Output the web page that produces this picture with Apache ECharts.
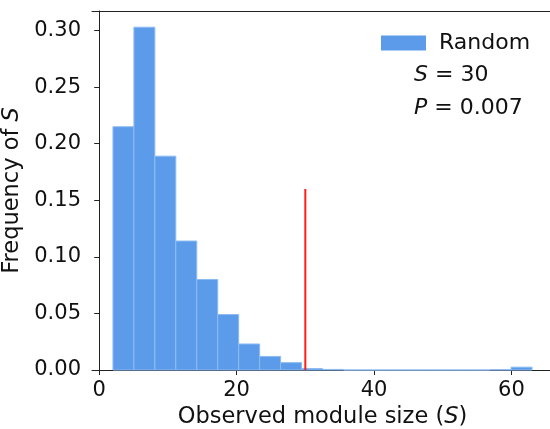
<!DOCTYPE html>
<html>
<head>
<meta charset="utf-8">
<script src="https://cdn.jsdelivr.net/npm/echarts@6/dist/echarts.min.js"></script>
<style>
  html, body { margin: 0; padding: 0; background: #fff; }
  #chart { width: 550px; height: 429px; }
</style>
</head>
<body>
<div id="chart"></div>
<script>
// histogram bins of the random module sizes (20 bins over 2..63)
var binStart = [2, 5.05, 8.1, 11.15, 14.2, 17.25, 20.3, 23.35, 26.4, 29.45,
  32.5, 35.55, 38.6, 41.65, 44.7, 47.75, 50.8, 53.85, 56.9, 59.95];
var binEnd = [5.05, 8.1, 11.15, 14.2, 17.25, 20.3, 23.35, 26.4, 29.45, 32.5,
  35.55, 38.6, 41.65, 44.7, 47.75, 50.8, 53.85, 56.9, 59.95, 63];
var freq = [0.215, 0.303, 0.189, 0.114, 0.080, 0.049, 0.023, 0.012, 0.0065, 0.0013,
  0.0005, 0, 0, 0, 0, 0, 0, 0, 0.0003, 0.0025];
var observedS = 30;
var observedLine = [[30, 0], [30, 0.16]];
var xTicks = [0, 20, 40, 60];
var yTicks = [0, 0.05, 0.10, 0.15, 0.20, 0.25, 0.30];

var font = 'DejaVu Sans';
var ink = '#111';
var barData = [];
for (var i = 0; i < freq.length; i++) {
  barData.push([binStart[i], binEnd[i], freq[i]]);
}
var italic = { fontFamily: font, fontSize: 22.5, fontStyle: 'italic', color: ink };

var mychart = echarts.init(document.getElementById('chart'));
var option = {
  animation: false,
  textStyle: { fontFamily: font },
  grid: { left: 92, right: -3, top: 11, bottom: 59, outerBoundsMode: 'none', containLabel: false },
  legend: {
    data: ['Random'],
    left: 376, top: 27,
    icon: 'rect', itemWidth: 45, itemHeight: 15, itemGap: 10,
    textStyle: { fontFamily: font, fontSize: 22, color: ink, padding: [0, 0, 0, 8] }
  },
  xAxis: [{
    type: 'value',
    min: -1.05, max: 66.05,
    name: 'Observed module size ({i|S})',
    nameLocation: 'middle',
    nameGap: 29,
    nameTextStyle: { fontFamily: font, fontSize: 22.5, color: ink, rich: { i: italic } },
    axisLine: { show: true, lineStyle: { color: '#222' } },
    axisTick: { show: true, length: 5, lineStyle: { color: '#222' }, customValues: xTicks },
    axisLabel: { fontSize: 21, color: ink, margin: 10, customValues: xTicks },
    splitLine: { show: false }
  }, {
    // top spine only
    type: 'value', position: 'top',
    min: -1.05, max: 66.05,
    axisLine: { show: true, lineStyle: { color: '#222' } },
    axisTick: { show: false }, axisLabel: { show: false }, splitLine: { show: false }
  }],
  yAxis: {
    type: 'value',
    min: 0, max: 0.3173,
    name: 'Frequency of {i|S}',
    nameLocation: 'middle',
    nameGap: 56,
    nameTextStyle: { fontFamily: font, fontSize: 22.5, color: ink, rich: { i: italic } },
    axisLine: { show: true, lineStyle: { color: '#222' } },
    axisTick: { show: true, length: 5, lineStyle: { color: '#222' }, customValues: yTicks },
    axisLabel: {
      fontSize: 21, color: ink, margin: 11, customValues: yTicks,
      formatter: function (v) { return v.toFixed(2); }
    },
    splitLine: { show: false }
  },
  series: [
    {
      name: 'Random',
      type: 'custom',
      itemStyle: { color: '#5b9bea' },
      renderItem: function (params, api) {
        var p0 = api.coord([api.value(0), api.value(2)]);
        var p1 = api.coord([api.value(1), 0]);
        return {
          type: 'rect',
          shape: { x: p0[0], y: p0[1], width: p1[0] - p0[0], height: p1[1] - p0[1] },
          style: { fill: '#5b9bea', stroke: '#8dbcf2', lineWidth: 1 }
        };
      },
      encode: { x: [0, 1], y: 2 },
      data: barData
    },
    {
      name: 'S',
      type: 'line',
      symbol: 'none',
      lineStyle: { color: '#ff1a1a', width: 2 },
      data: observedLine,
      z: 5
    }
  ],
  graphic: [
    {
      type: 'text', left: 414, top: 64,
      style: {
        text: '{i|S} = ' + observedS,
        fontFamily: font, fontSize: 22, fill: ink,
        rich: { i: { fontFamily: font, fontSize: 22, fontStyle: 'italic', fill: ink } }
      }
    },
    {
      type: 'text', left: 414, top: 97,
      style: {
        text: '{i|P} = 0.007',
        fontFamily: font, fontSize: 22, fill: ink,
        rich: { i: { fontFamily: font, fontSize: 22, fontStyle: 'italic', fill: ink } }
      }
    }
  ]
};
mychart.setOption(option);
window.onresize = mychart.resize;
</script>
</body>
</html>
